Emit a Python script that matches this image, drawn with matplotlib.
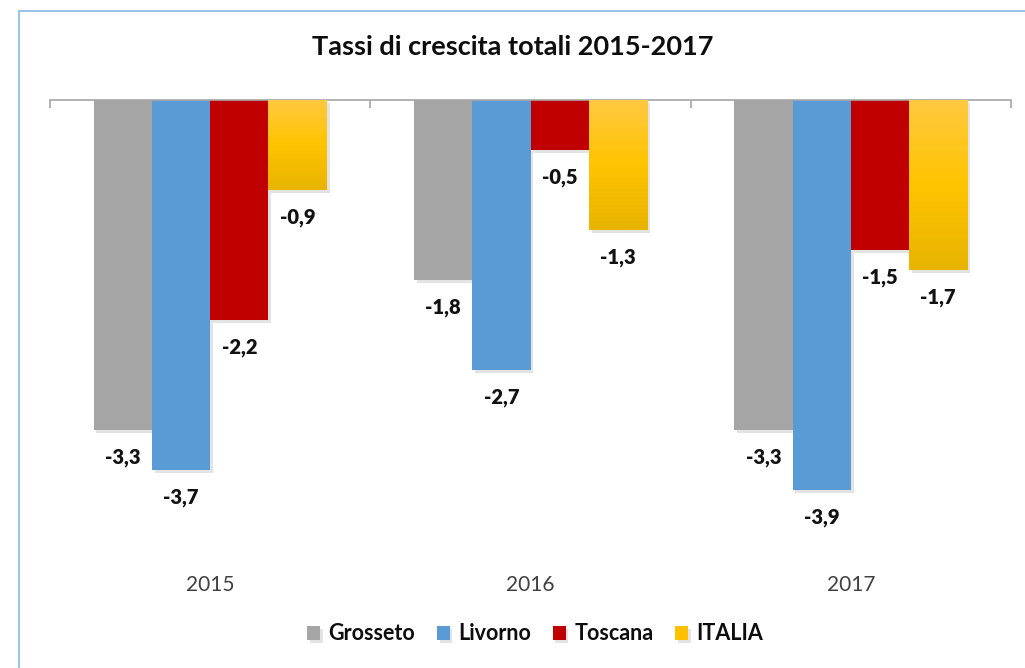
import numpy as np
from matplotlib import pyplot as plt
from matplotlib import patheffects as pe
from matplotlib.colors import LinearSegmentedColormap
from matplotlib.lines import Line2D

years = ["2015", "2016", "2017"]
series = ["Grosseto", "Livorno", "Toscana", "ITALIA"]
grosseto = [-3.3, -1.8, -3.3]
livorno = [-3.7, -2.7, -3.9]
toscana = [-2.2, -0.5, -1.5]
italia = [-0.9, -1.3, -1.7]

colors = ["#A5A5A5", "#5B9BD5", "#C00000", "#FFC000"]
yellow_grad = LinearSegmentedColormap.from_list("yg", ["#E8B400", "#FFC400", "#FFC940"])


def fmt(v):
    return ("%.1f" % v).replace(".", ",")


def main():
    plt.rcParams['font.family'] = ['Lato', 'DejaVu Sans']
    fig = plt.figure(figsize=(10.25, 6.68), dpi=100)
    ax = fig.add_axes([50 / 1025, 1 - 550 / 668, 961 / 1025, 450 / 668])

    values = [grosseto, livorno, toscana, italia]
    x = np.arange(len(years))
    w = 0.182
    shadow = [pe.SimplePatchShadow(offset=(2, -2), shadow_rgbFace="#909090", alpha=0.25), pe.Normal()]

    for j, vals in enumerate(values):
        pos = x + (j - 1.5) * w
        bars = ax.bar(pos, vals, width=w, color=colors[j], label=series[j], zorder=2)
        for b, v in zip(bars, vals):
            b.set_path_effects(shadow)
            if series[j] == "ITALIA":
                grad = np.linspace(0, 1, 100).reshape(-1, 1)
                im = ax.imshow(grad, cmap=yellow_grad, aspect="auto", origin="lower",
                               extent=[b.get_x(), b.get_x() + w, v, 0], zorder=3)
                im.set_clip_path(b)
            ax.annotate(fmt(v), (b.get_x() + w / 2, v), xytext=(0, -20), textcoords="offset points",
                        ha="center", va="center", fontsize=14.5, fontweight="heavy", color="#111111")

    ax.set_xlim(-0.5, 2.5)
    ax.set_ylim(-4.5, 0)
    ax.set_yticks([])
    for s in ["left", "right", "bottom"]:
        ax.spines[s].set_visible(False)
    ax.spines["top"].set_color("#A6A6A6")
    ax.spines["top"].set_linewidth(1.2)
    ax.set_xticks(x)
    ax.set_xticklabels(years, fontsize=15, color="#404040")
    ax.set_xticks(np.arange(-0.5, 3, 1), minor=True)
    ax.tick_params(which="major", length=0, pad=18)
    ax.tick_params(which="minor", top=True, bottom=False, direction="in", length=6,
                   color="#A6A6A6", width=1.2)

    fig.text(0.5, 1 - 47 / 668, "Tassi di crescita totali 2015-2017", ha="center", va="center",
             fontsize=19.5, fontweight="bold", color="#0d0d0d")

    leg = ax.legend(loc="center", bbox_to_anchor=(0.522, 1 - 634 / 668), bbox_transform=fig.transFigure,
                    ncol=4, frameon=False, handlelength=0.6, handleheight=0.6, handletextpad=0.4,
                    columnspacing=1.0, prop={"weight": "bold", "size": 15.5})
    for t in leg.get_texts():
        t.set_color("#0d0d0d")

    border = "#9DC3E6"
    fig.add_artist(Line2D([19 / 1025, 19 / 1025], [0, 1 - 11 / 668], color=border, lw=1.5))
    fig.add_artist(Line2D([19 / 1025, 1], [1 - 11 / 668, 1 - 11 / 668], color=border, lw=1.5))

    fig.savefig("out.png", dpi=100, facecolor="white")


if __name__ == '__main__':
    main()
